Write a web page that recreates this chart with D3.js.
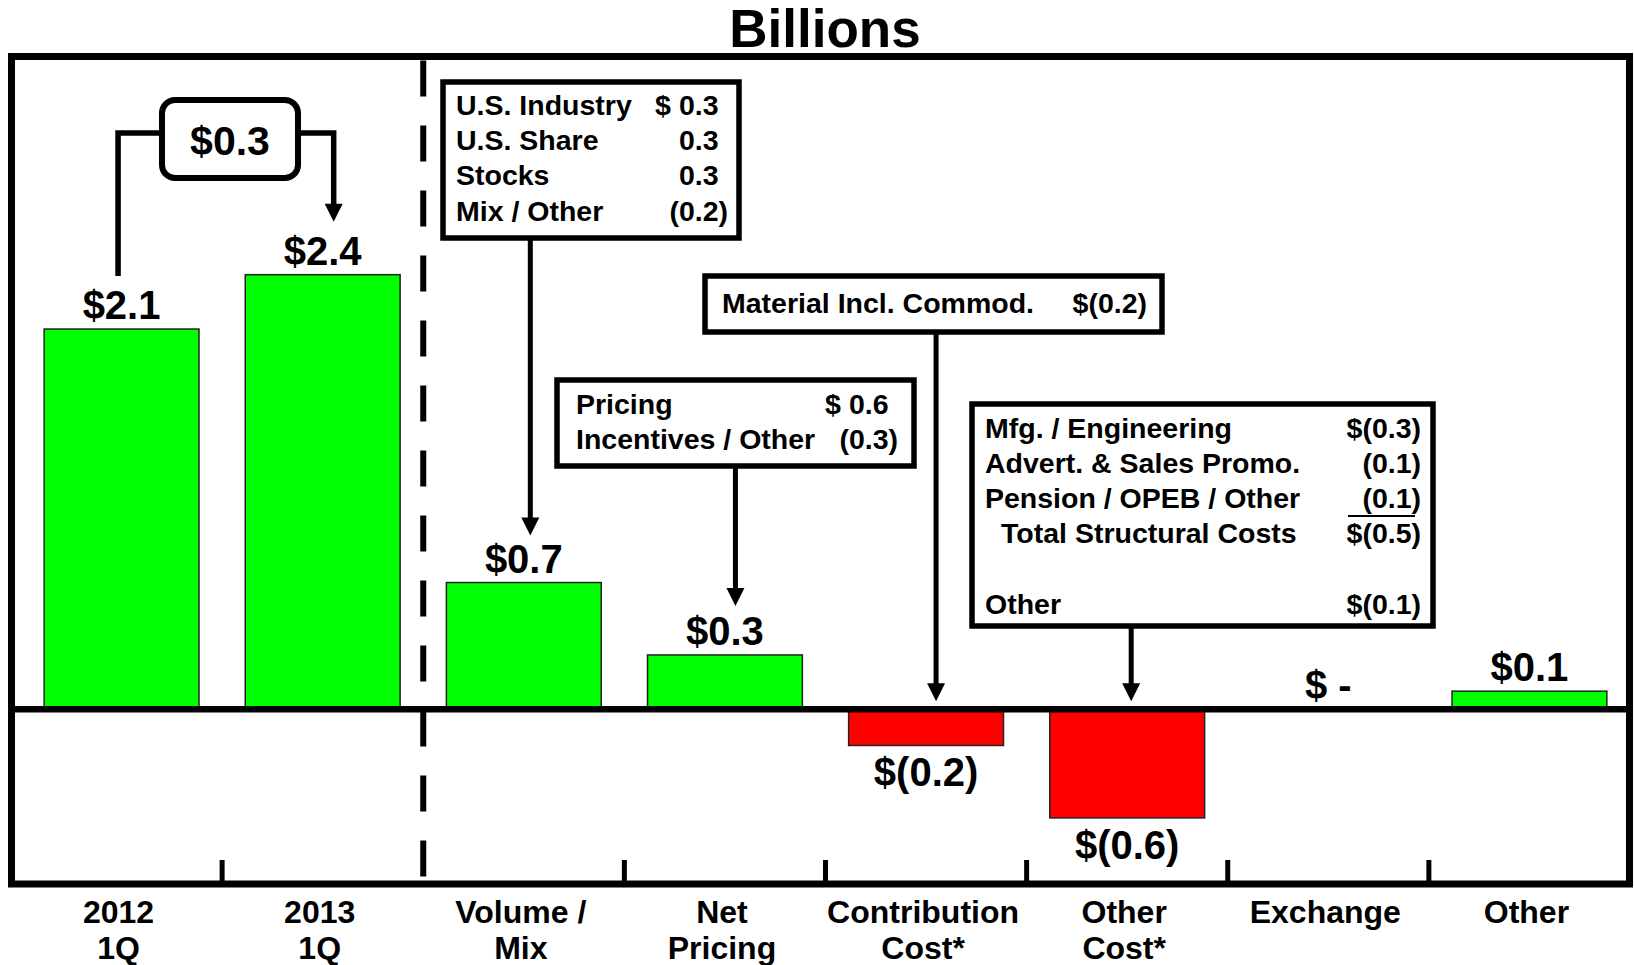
<!DOCTYPE html>
<html>
<head>
<meta charset="utf-8">
<script src="https://cdn.jsdelivr.net/npm/d3@7"></script>
<style>
  body { margin: 0; background: #fff; }
  text { font-family: "Liberation Sans", Arial, sans-serif; font-weight: bold; fill: #000; }
</style>
</head>
<body>
<script>
// profit walk 1Q 2012 -> 1Q 2013, billions

// data
var categories = ["2012 1Q", "2013 1Q", "Volume / Mix", "Net Pricing", "Contribution Cost*", "Other Cost*", "Exchange", "Other"];
var catLines = [["2012", "1Q"], ["2013", "1Q"], ["Volume /", "Mix"], ["Net", "Pricing"], ["Contribution", "Cost*"], ["Other", "Cost*"], ["Exchange"], ["Other"]];
var values = [2.1, 2.4, 0.7, 0.3, -0.2, -0.6, 0, 0.1];
var valueLabels = ["$2.1", "$2.4", "$0.7", "$0.3", "$(0.2)", "$(0.6)", "$ -", "$0.1"];
var changeLabel = "$0.3";

// callout tables: [label, amount, indent]
var volumeRows = [["U.S. Industry", "$ 0.3"], ["U.S. Share", "0.3"], ["Stocks", "0.3"], ["Mix / Other", "(0.2)"]];
var pricingRows = [["Pricing", "$ 0.6"], ["Incentives / Other", "(0.3)"]];
var contribRows = [["Material Incl. Commod.", "$(0.2)"]];
var otherCostRows = [["Mfg. / Engineering", "$(0.3)"], ["Advert. & Sales Promo.", "(0.1)"], ["Pension / OPEB / Other", "(0.1)"],
                     ["Total Structural Costs", "$(0.5)", 16], ["", ""], ["Other", "$(0.1)"]];

var W = 1634, H = 965;
var frame = {left: 11.5, top: 56.5, right: 1629.5, bottom: 884};

var svg = d3.select("body").append("svg")
  .attr("width", W)
  .attr("height", H);

var x = d3.scaleBand()
  .domain(categories)
  .range([21, 1630])
  .paddingInner(0.23)
  .paddingOuter(0.115);

var y = d3.scaleLinear()
  .domain([-0.965, 3.605])
  .range([frame.bottom, frame.top]);

function cx(i) { return x(categories[i]) + x.bandwidth() / 2; }
function labelTop(i) { return y(Math.max(values[i], 0)) - 39; }

// title
svg.append("text")
  .attr("x", 825).attr("y", 47)
  .attr("text-anchor", "middle")
  .style("font-size", "53px")
  .text("Billions");

// bars
svg.selectAll("rect.bar")
  .data(values)
  .enter()
  .append("rect")
  .attr("class", "bar")
  .attr("x", function(d, i) { return x(categories[i]); })
  .attr("y", function(d) { return y(Math.max(d, 0)); })
  .attr("width", x.bandwidth())
  .attr("height", function(d) { return Math.abs(y(d) - y(0)); })
  .attr("fill", function(d) { return d < 0 ? "#ff0000" : "#00ff00"; })
  .attr("stroke", "#222")
  .attr("stroke-width", 1.5);

// value labels
svg.selectAll("text.val")
  .data(values)
  .enter()
  .append("text")
  .attr("class", "val")
  .attr("x", function(d, i) { return cx(i); })
  .attr("y", function(d) { return d < 0 ? y(d) + 41 : y(d) - 10; })
  .attr("text-anchor", "middle")
  .style("font-size", "40px")
  .text(function(d, i) { return valueLabels[i]; });

// zero line
svg.append("line")
  .attr("x1", frame.left).attr("x2", frame.right)
  .attr("y1", y(0)).attr("y2", y(0))
  .attr("stroke", "#000").attr("stroke-width", 6.5);

// frame
svg.append("rect")
  .attr("x", frame.left).attr("y", frame.top)
  .attr("width", frame.right - frame.left)
  .attr("height", frame.bottom - frame.top)
  .attr("fill", "none")
  .attr("stroke", "#000")
  .attr("stroke-width", 7);

// boundaries between categories: dashed divider after the two actual bars, ticks elsewhere
var gap = x.step() * x.paddingInner() / 2;
for (var k = 1; k < categories.length; k++) {
  var bx = x(categories[k]) - gap;
  if (k == 2) {
    svg.append("line")
      .attr("x1", bx).attr("x2", bx)
      .attr("y1", frame.top + 4).attr("y2", frame.bottom - 6)
      .attr("stroke", "#000").attr("stroke-width", 6)
      .attr("stroke-dasharray", "36,29");
  } else {
    svg.append("line")
      .attr("x1", bx).attr("x2", bx)
      .attr("y1", frame.bottom).attr("y2", frame.bottom - 24)
      .attr("stroke", "#000").attr("stroke-width", 5);
  }
}

// category labels
catLines.forEach(function(lines, i) {
  var t = svg.append("text")
    .attr("x", cx(i) - 3).attr("y", 923)
    .attr("text-anchor", "middle")
    .style("font-size", "32px");
  lines.forEach(function(s, j) {
    t.append("tspan").attr("x", cx(i) - 3).attr("dy", j == 0 ? 0 : 36).text(s);
  });
});

// arrow going down to (ax, tip)
function arrow(ax, y1, tip) {
  svg.append("line")
    .attr("x1", ax).attr("x2", ax)
    .attr("y1", y1).attr("y2", tip - 14)
    .attr("stroke", "#000").attr("stroke-width", 5);
  svg.append("path")
    .attr("d", "M" + (ax - 9) + "," + (tip - 18) + "L" + (ax + 9) + "," + (tip - 18) + "L" + ax + "," + tip + "Z")
    .attr("fill", "#000");
}

// boxed table
function callout(rows, b, opts) {
  svg.append("rect")
    .attr("x", b.x0).attr("y", b.y0)
    .attr("width", b.x1 - b.x0).attr("height", b.y1 - b.y0)
    .attr("fill", "#fff").attr("stroke", "#000").attr("stroke-width", 5.5);
  var parenW = 9.5;
  rows.forEach(function(r, i) {
    var by = opts.first + i * opts.step;
    svg.append("text")
      .attr("x", opts.left + (r[2] || 0)).attr("y", by)
      .style("font-size", "28.5px")
      .text(r[0]);
    var closes = r[1].slice(-1) == ")";
    svg.append("text")
      .attr("x", opts.right - (closes ? 0 : parenW)).attr("y", by)
      .attr("text-anchor", "end")
      .style("font-size", "28.5px")
      .text(r[1]);
  });
}

callout(volumeRows, {x0: 443, y0: 82, x1: 739, y1: 238}, {left: 456, right: 728, first: 115, step: 35.2});
arrow(cx(2) + 6.5, 238, labelTop(2) - 8);

callout(pricingRows, {x0: 557, y0: 380, x1: 914, y1: 466}, {left: 576, right: 898, first: 414, step: 35});
arrow(cx(3) + 10.5, 466, labelTop(3) - 10);

callout(contribRows, {x0: 705, y0: 276, x1: 1162, y1: 332}, {left: 722, right: 1147, first: 313, step: 35});
arrow(cx(4) + 10, 332, y(0) - 8);

callout(otherCostRows, {x0: 972, y0: 404, x1: 1433, y1: 626}, {left: 985, right: 1421, first: 438, step: 35.1});
arrow(cx(5) + 4, 626, y(0) - 8);
// rule under the last structural cost item
svg.append("line")
  .attr("x1", 1348).attr("x2", 1415)
  .attr("y1", 516).attr("y2", 516)
  .attr("stroke", "#000").attr("stroke-width", 2);

// year-over-year change bracket
var bl = cx(0) - 3.5, br = cx(1) + 11;
svg.append("path")
  .attr("d", "M" + bl + "," + (labelTop(0) - 14) + "V133H162")
  .attr("fill", "none").attr("stroke", "#000").attr("stroke-width", 5.5);
svg.append("path")
  .attr("d", "M298,133H" + br + "V" + (labelTop(1) - 28))
  .attr("fill", "none").attr("stroke", "#000").attr("stroke-width", 5.5);
arrow(br, labelTop(1) - 30, labelTop(1) - 14);
svg.append("rect")
  .attr("x", 162).attr("y", 100)
  .attr("width", 136).attr("height", 78)
  .attr("rx", 13)
  .attr("fill", "#fff").attr("stroke", "#000").attr("stroke-width", 6);
svg.append("text")
  .attr("x", 230).attr("y", 155)
  .attr("text-anchor", "middle")
  .style("font-size", "41px")
  .text(changeLabel);
</script>
</body>
</html>
